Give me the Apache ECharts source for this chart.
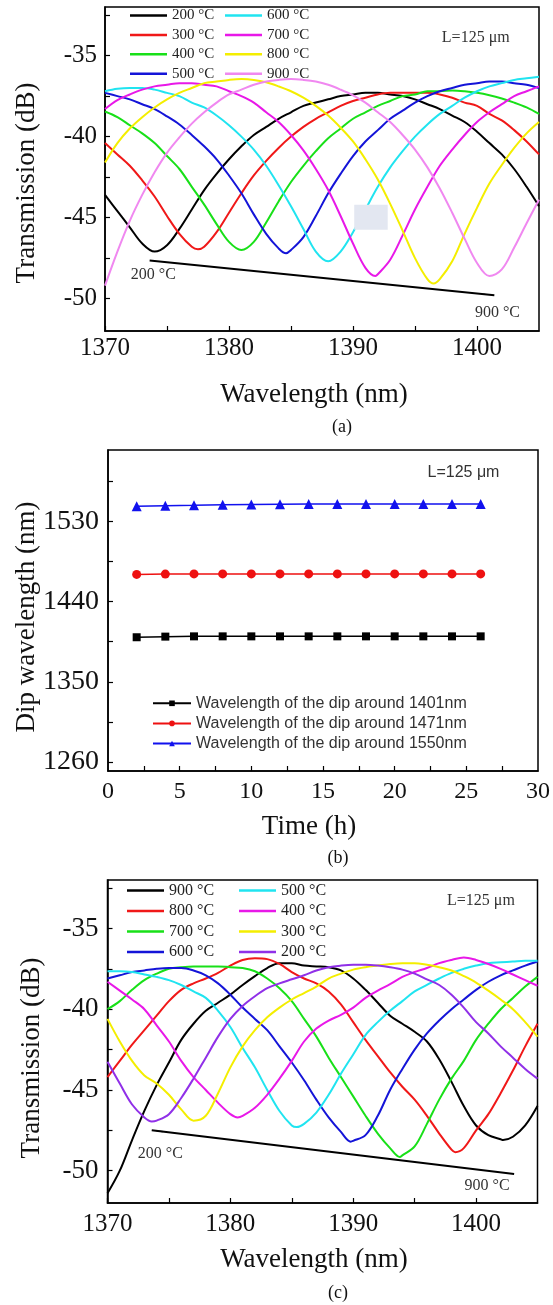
<!DOCTYPE html>
<html><head><meta charset="utf-8">
<script src="https://cdn.jsdelivr.net/npm/echarts@6/dist/echarts.min.js"></script>
<style>html,body{margin:0;padding:0;background:#fff}#c{width:553px;height:1305px}</style>
</head><body><div id="c"></div>
<script>
// ---------- shared wavelength grid (nm) ----------
const wl = [1370,1371,1372,1373,1374,1375,1376,1377,1378,1379,1380,1381,1382,1383,1384,1385,1386,1387,1388,1389,1390,1391,1392,1393,1394,1395,1396,1397,1398,1399,1400,1401,1402,1403,1404,1405];

// ---------- panel (a): heating, transmission (dB) ----------
const aT200 = [-43.6,-44.6,-45.6,-46.6,-47.1,-46.7,-45.7,-44.5,-43.3,-42.3,-41.4,-40.6,-39.9,-39.4,-38.9,-38.5,-38.1,-37.9,-37.7,-37.5,-37.4,-37.3,-37.3,-37.4,-37.5,-37.7,-38.0,-38.3,-38.7,-39.1,-39.7,-40.4,-41.1,-42.0,-43.1,-44.3];
const aT300 = [-40.4,-41.1,-41.8,-42.7,-43.7,-44.9,-46.0,-46.8,-46.8,-45.9,-44.7,-43.5,-42.4,-41.5,-40.7,-40.0,-39.4,-38.9,-38.5,-38.1,-37.8,-37.6,-37.4,-37.3,-37.3,-37.3,-37.3,-37.4,-37.6,-37.9,-38.1,-38.6,-39.0,-39.6,-40.3,-41.1];
const aT400 = [-38.45,-38.8,-39.3,-39.8,-40.4,-41.2,-42.0,-43.1,-44.2,-45.4,-46.5,-47.0,-46.5,-45.3,-44.0,-42.8,-41.8,-40.9,-40.1,-39.5,-38.9,-38.5,-38.1,-37.8,-37.5,-37.4,-37.2,-37.2,-37.15,-37.2,-37.3,-37.45,-37.65,-37.9,-38.2,-38.6];
const aT500 = [-37.3,-37.5,-37.7,-38.0,-38.3,-38.75,-39.25,-39.9,-40.6,-41.4,-42.4,-43.5,-44.8,-46.0,-46.9,-47.0,-46.2,-44.9,-43.5,-42.3,-41.2,-40.3,-39.6,-38.9,-38.4,-37.9,-37.5,-37.2,-37.0,-36.8,-36.7,-36.6,-36.6,-36.7,-36.8,-37.0];
const aT600 = [-37.2,-37.05,-37.0,-37.0,-37.1,-37.3,-37.5,-37.9,-38.2,-38.7,-39.3,-40.0,-40.8,-41.8,-43.0,-44.3,-45.7,-47.1,-47.7,-47.1,-45.9,-44.5,-43.1,-41.9,-40.9,-40.0,-39.25,-38.6,-38.1,-37.6,-37.2,-36.9,-36.7,-36.5,-36.4,-36.3];
const aT700 = [-38.3,-37.75,-37.4,-37.1,-36.9,-36.8,-36.7,-36.7,-36.8,-36.9,-37.2,-37.5,-37.9,-38.5,-39.1,-39.9,-40.85,-42.0,-43.3,-44.9,-46.6,-48.1,-48.5,-47.6,-46.1,-44.5,-43.1,-41.8,-40.8,-39.9,-39.1,-38.5,-38.0,-37.5,-37.2,-36.9];
const aT800 = [-41.6,-40.4,-39.5,-38.8,-38.2,-37.7,-37.3,-37.0,-36.7,-36.6,-36.5,-36.45,-36.5,-36.65,-36.9,-37.2,-37.6,-38.1,-38.7,-39.45,-40.3,-41.4,-42.65,-44.15,-45.8,-47.5,-48.8,-48.8,-47.7,-46.0,-44.4,-42.9,-41.75,-40.7,-39.8,-39.1];
const aT900 = [-49.2,-47.1,-45.2,-43.6,-42.2,-41.0,-40.05,-39.2,-38.5,-37.9,-37.4,-37.1,-36.8,-36.6,-36.5,-36.45,-36.5,-36.6,-36.8,-37.1,-37.45,-37.9,-38.5,-39.1,-39.9,-40.8,-41.9,-43.2,-44.7,-46.3,-47.8,-48.6,-48.2,-46.85,-45.35,-43.9];
// dip minima that fall between grid wavelengths: [nm, dB]
const aDips = {a300:[1377.5,-46.95], a500:[1384.6,-47.2], a700:[1391.8,-48.6], a800:[1396.5,-49.07]};

// ---------- panel (c): cooling, transmission (dB) ----------
const cT900 = [-51.4,-50.0,-48.1,-46.3,-44.7,-43.3,-41.9,-40.9,-40.1,-39.6,-39.1,-38.5,-37.95,-37.45,-37.15,-37.15,-37.3,-37.35,-37.4,-37.6,-38.1,-38.8,-39.6,-40.4,-40.9,-41.4,-42.0,-43.1,-44.5,-46.0,-47.2,-47.8,-48.05,-47.9,-47.2,-46.0];
const cT800 = [-44.2,-43.2,-42.2,-41.3,-40.4,-39.5,-38.8,-38.4,-38.1,-37.75,-37.3,-36.95,-36.85,-36.9,-37.2,-37.7,-38.1,-38.4,-38.9,-39.7,-40.8,-41.9,-42.9,-43.9,-44.8,-45.6,-46.6,-47.7,-48.7,-48.6,-47.5,-46.5,-45.2,-43.8,-42.3,-40.9];
const cT700 = [-40.0,-39.5,-38.8,-38.2,-37.8,-37.5,-37.4,-37.35,-37.35,-37.35,-37.4,-37.45,-37.65,-38.1,-38.7,-39.5,-40.6,-41.7,-43.0,-44.2,-45.4,-46.6,-47.7,-48.6,-49.05,-48.5,-47.1,-45.6,-44.3,-43.2,-41.9,-40.9,-40.0,-39.3,-38.6,-38.0];
const cT600 = [-38.1,-37.9,-37.7,-37.6,-37.5,-37.45,-37.45,-37.6,-37.9,-38.4,-39.1,-39.9,-40.6,-41.3,-42.3,-43.3,-44.4,-45.6,-46.7,-47.6,-48.15,-47.8,-46.6,-45.0,-43.7,-42.5,-41.5,-40.7,-40.0,-39.4,-38.8,-38.3,-37.9,-37.6,-37.3,-37.05];
const cT500 = [-37.65,-37.65,-37.7,-37.85,-38.0,-38.2,-38.5,-38.9,-39.3,-40.1,-41.1,-42.4,-43.6,-45.0,-46.3,-47.2,-47.1,-46.4,-45.3,-44.0,-42.8,-41.6,-40.8,-40.1,-39.5,-38.9,-38.5,-38.1,-37.75,-37.5,-37.3,-37.15,-37.1,-37.05,-37.0,-37.0];
const cT400 = [-38.3,-38.85,-39.4,-40.0,-41.0,-42.0,-43.2,-44.2,-45.0,-45.8,-46.5,-46.6,-46.1,-45.3,-44.3,-43.2,-42.0,-41.2,-40.7,-40.35,-39.9,-39.3,-38.85,-38.45,-38.0,-37.7,-37.45,-37.15,-36.95,-36.8,-36.95,-37.2,-37.5,-37.85,-38.2,-38.55];
const cT300 = [-40.6,-42.0,-43.2,-44.1,-44.6,-45.3,-46.2,-46.9,-46.6,-45.2,-43.6,-42.3,-41.3,-40.5,-39.9,-39.4,-39.0,-38.6,-38.1,-37.8,-37.55,-37.4,-37.3,-37.2,-37.15,-37.15,-37.25,-37.4,-37.6,-37.95,-38.35,-38.85,-39.4,-40.0,-40.8,-41.7];
const cT200 = [-43.25,-44.6,-45.9,-46.7,-46.9,-46.5,-45.5,-44.3,-43.0,-41.7,-40.6,-39.8,-39.2,-38.7,-38.4,-38.15,-37.9,-37.6,-37.4,-37.3,-37.25,-37.25,-37.3,-37.4,-37.55,-37.8,-38.15,-38.5,-39.1,-39.9,-40.8,-41.5,-42.3,-43.0,-43.7,-44.3];
const cDips = {c900:[1402.2,-48.1], c800:[1398.3,-48.85], c700:[1393.8,-49.15], c600:[1389.8,-48.2], c500:[1385.4,-47.3], c400:[1380.6,-46.7], c200:[1373.6,-46.95]};

// ---------- panel (b): dip wavelength vs time ----------
const times   = [2,4,6,8,10,12,14,16,18,20,22,24,26];
const dip1401 = [1400.0,1400.7,1401.0,1401.0,1401.0,1401.0,1401.0,1401.0,1401.0,1401.0,1401.0,1401.0,1401.0];
const dip1471 = [1470.5,1470.8,1471.0,1471.0,1471.0,1471.0,1471.0,1471.0,1471.0,1471.0,1471.0,1471.0,1471.0];
const dip1550 = [1547.0,1547.6,1548.0,1548.7,1549.0,1549.2,1549.3,1549.3,1549.3,1549.3,1549.3,1549.3,1549.3];

// ---------- ticks / labels ----------
const wlTicks   = [1370,1375,1380,1385,1390,1395,1400];
const wlLabels  = [1370,1380,1390,1400];
const dbTicks   = [-50,-47.5,-45,-42.5,-40,-37.5,-35,-32.5];
const dbLabels  = [-50,-45,-40,-35];
const tTicks    = [2.5,5,7.5,10,12.5,15,17.5,20,22.5,25,27.5];
const tLabels   = [0,5,10,15,20,25,30];
const dipTicks  = [1260,1305,1350,1395,1440,1485,1530,1575];
const dipLabels = [1260,1350,1440,1530];

// ---------- annotations (data coordinates) ----------
const arrowA = [[1373.6,-47.65],[1401.4,-49.8]];
const arrowC = [[1403.1,-50.2],[1373.6,-47.5]];
const notesA = [['200 °C',1373.9,-48.5],['900 °C',1401.65,-50.87],['L=125 μm',1399.9,-33.9]];
const notesC = [['200 °C',1374.3,-48.95],['900 °C',1400.9,-50.96],['L=125 μm',1400.4,-33.3]];
const notesB = [['L=125 μm',24.8,1584.8]];

const SERIF = "'Liberation Serif','DejaVu Serif',serif";
const SANS = "'Liberation Sans','DejaVu Sans',sans-serif";

const colA = {a200:'#000000',a300:'#f01818',a400:'#18e018',a500:'#1414d8',a600:'#20e4f0',a700:'#e818e8',a800:'#f4ee00',a900:'#f088f0'};
const colC = {c900:'#000000',c800:'#f01818',c700:'#18e018',c600:'#1414d8',c500:'#20e4f0',c400:'#e818e8',c300:'#f4ee00',c200:'#9030e8'};
const dataA = {a200:aT200,a300:aT300,a400:aT400,a500:aT500,a600:aT600,a700:aT700,a800:aT800,a900:aT900};
const dataC = {c900:cT900,c800:cT800,c700:cT700,c600:cT600,c500:cT500,c400:cT400,c300:cT300,c200:cT200};

function pairs(xs, ys){ return xs.map((x,i)=>[x, ys[i]]); }
function withDip(arr, dip){
  const p = pairs(wl, arr);
  if (dip) { p.push(dip.slice()); p.sort((u,v)=>u[0]-v[0]); }
  return p;
}

function specLine(name, color, data, xi){
  return {name, type:'line', xAxisIndex:xi, yAxisIndex:xi, data, smooth:0.35,
    symbol:'none', showSymbol:false, color, lineStyle:{color, width:2}, z:3};
}
function arrowLine(pts){
  return {silent:true, symbol:['none','arrow'], symbolSize:[1,12], label:{show:false},
    lineStyle:{color:'#000', width:2, type:'solid'}, data:[[{coord:pts[0]},{coord:pts[1]}]], animation:false};
}

const series = [];
Object.keys(dataA).forEach(k => series.push(specLine(k, colA[k], withDip(dataA[k], aDips[k]), 0)));
series[0].markLine = arrowLine(arrowA);
Object.keys(dataC).forEach(k => series.push(specLine(k, colC[k], withDip(dataC[k], cDips[k]), 2)));
series[8].markLine = arrowLine(arrowC);

const bStyle = [
  {name:'Wavelength of the dip around 1401nm', d:dip1401, c:'#000000', s:'rect', sz:8},
  {name:'Wavelength of the dip around 1471nm', d:dip1471, c:'#ee1111', s:'circle', sz:9},
  {name:'Wavelength of the dip around 1550nm', d:dip1550, c:'#1111ee', s:'triangle', sz:10}
];
bStyle.forEach(b => series.push({name:b.name, type:'line', xAxisIndex:1, yAxisIndex:1, data:pairs(times, b.d),
  symbol:b.s, symbolSize:b.sz, showSymbol:true, color:b.c, itemStyle:{color:b.c}, lineStyle:{color:b.c, width:1.5}}));

function valAxis(gi, min, max, ticks, labels, fs, margin){
  return {type:'value', gridIndex:gi, min, max,
    axisLine:{show:true, onZero:false, lineStyle:{color:'#000', width:1.5}},
    axisTick:{show:true, inside:true, length:5, lineStyle:{color:'#000', width:1.2}, customValues:ticks},
    axisLabel:{show:true, customValues:labels, formatter:v=>String(v), fontFamily:SERIF, fontSize:fs, color:'#111', margin},
    splitLine:{show:false}, minorTick:{show:false}};
}

function legendCol(names, left, top, gap, fs, lh){
  return {data:names, orient:'vertical', left, top, padding:0, itemGap:gap, itemWidth:37, itemHeight:2.5, icon:'rect',
    formatter:n=>n.slice(1)+' °C', textStyle:{fontFamily:SERIF, fontSize:fs, lineHeight:lh, color:'#222'}, selectedMode:false};
}

const option = {
  animation:false,
  backgroundColor:'#ffffff',
  grid:[
    {left:105, top:7, width:434, height:324, show:true, borderColor:'#000', borderWidth:1.5},
    {left:108, top:450, width:430, height:321, show:true, borderColor:'#000', borderWidth:1.5},
    {left:107.5, top:880, width:430, height:323, show:true, borderColor:'#000', borderWidth:1.5}
  ],
  xAxis:[
    valAxis(0, 1370, 1405, wlTicks, wlLabels, 25, 5),
    valAxis(1, 0, 30, tTicks, tLabels, 24, 9),
    valAxis(2, 1370, 1405, wlTicks, wlLabels, 25, 9)
  ],
  yAxis:[
    valAxis(0, -52, -32, dbTicks, dbLabels, 25, 8),
    valAxis(1, 1250, 1610, dipTicks, dipLabels, 28, 9),
    valAxis(2, -52, -32, dbTicks, dbLabels, 27, 9)
  ],
  legend:[
    legendCol(['a200','a300','a400','a500'], 130, 8, 4.4, 15, 14),
    legendCol(['a600','a700','a800','a900'], 225, 8, 4.4, 15, 14),
    legendCol(['c900','c800','c700','c600'], 127, 882.5, 4.5, 16, 15),
    legendCol(['c500','c400','c300','c200'], 239, 882.5, 4.5, 16, 15),
    {data:bStyle.map(b=>b.name), orient:'vertical', left:152, top:695.3, padding:0, itemGap:4.1, itemWidth:38, itemHeight:7,
      textStyle:{fontFamily:SANS, fontSize:16, lineHeight:14, color:'#333'}, selectedMode:false}
  ],
  series
};

const chart = echarts.init(document.getElementById('c'), null, {renderer:'canvas', width:553, height:1305});
chart.setOption(option);

// text annotations placed through the axes
const g = [];
function note(gi, arr, font, size){
  arr.forEach(n => {
    const p = chart.convertToPixel({gridIndex:gi}, [n[1], n[2]]);
    g.push({type:'text', x:p[0], y:p[1], z:10, style:{text:n[0], fontFamily:font, fontSize:size, fill:'#333',
      align:'center', verticalAlign:'middle', textAlign:'center', textVerticalAlign:'middle'}});
  });
}
note(0, notesA, SERIF, 16);
note(2, notesC, SERIF, 16);
note(1, notesB, SANS, 16);

// pale patch present in the original figure (a)
const r1 = chart.convertToPixel({gridIndex:0}, [1390.1,-44.2]);
const r2 = chart.convertToPixel({gridIndex:0}, [1392.8,-45.75]);
g.push({type:'rect', z:20, shape:{x:r1[0], y:r1[1], width:r2[0]-r1[0], height:r2[1]-r1[1]}, style:{fill:'#e3e7f1'}});

// axis titles and panel captions
function label(text, x, y, size, rot, font){
  g.push({type:'text', x, y, rotation:rot||0, z:10, style:{text, fontFamily:font||SERIF, fontSize:size, fill:'#111',
    align:'center', verticalAlign:'middle', textAlign:'center', textVerticalAlign:'middle'}});
}
label('Wavelength (nm)', 314, 395, 27);
label('Transmission (dB)', 26.5, 183, 27, Math.PI/2);
label('(a)', 342, 427, 18);
label('Time (h)', 309, 827, 27);
label('Dip wavelength (nm)', 27, 617, 27, Math.PI/2);
label('(b)', 338, 858, 18);
label('Wavelength (nm)', 314, 1260, 27);
label('Transmission (dB)', 31.7, 1058, 27, Math.PI/2);
label('(c)', 338, 1293, 18);
chart.setOption({graphic:g});
</script></body></html>
